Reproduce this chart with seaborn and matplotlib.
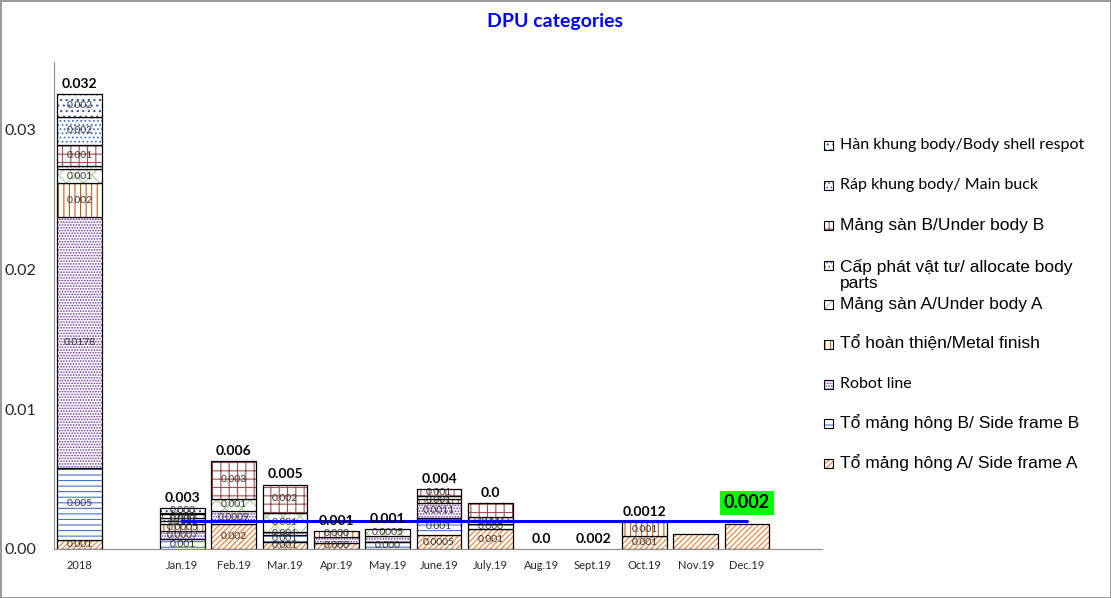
import numpy as np
import matplotlib.pyplot as plt
import seaborn as sns
from matplotlib.patches import Rectangle

# categories (second slot is an empty gap on the axis)
categories = ['2018', '', 'Jan.19', 'Feb.19', 'Mar.19', 'Apr.19', 'May.19',
              'June.19', 'July.19', 'Aug.19', 'Sept.19', 'Oct.19', 'Nov.19', 'Dec.19']

# DPU per group, stacked from the bottom up
side_a = [0.00066, 0, 0, 0.0018, 0.0005, 0.00045, 0, 0.001, 0.0014, 0, 0, 0.0009, 0.0011, 0.0018]
side_b = [0.00512, 0, 0.0007, 0, 0.0005, 0, 0.0005, 0.0012, 0.0004, 0, 0, 0, 0, 0]
robot = [0.01793, 0, 0.0006, 0.0009, 0.0002, 0.0004, 0.0004, 0.0011, 0.0003, 0, 0, 0, 0, 0]
metal = [0.00243, 0, 0.0005, 0, 0, 0.00045, 0, 0.0003, 0.0002, 0, 0, 0.001, 0, 0]
under_a = [0.001, 0, 0.0002, 0.0009, 0.0014, 0, 0.0005, 0, 0, 0, 0, 0, 0, 0]
allocate = [0.00024, 0, 0.0002, 0, 0, 0, 0, 0.0002, 0, 0, 0, 0, 0, 0]
under_b = [0.00148, 0, 0.0003, 0.0027, 0.002, 0, 0, 0.0005, 0.001, 0, 0, 0, 0, 0]
main_buck = [0.00204, 0, 0.0001, 0, 0, 0, 0, 0, 0, 0, 0, 0, 0, 0]
body_shell = [0.00162, 0, 0.0003, 0, 0, 0, 0, 0, 0, 0, 0, 0, 0, 0]

# data labels as printed inside the segments
side_a_lbl = ['0.001', '', '', '0.002', '0.001', '0.000', '', '0.0005', '0.001', '', '', '0.001', '', '']
side_b_lbl = ['0.005', '', '0.001', '', '0.001', '', '0.000', '0.001', '0.000', '', '', '', '', '']
robot_lbl = ['0.0178', '', '0.0007', '0.0009', '0.001', '', '', '0.0011', '0.000', '', '', '', '', '']
metal_lbl = ['0.002', '', '0.0005', '', '', '0.000', '', '0.001', '', '', '', '0.001', '', '']
under_a_lbl = ['0.001', '', '0.000', '0.001', '0.001', '', '0.0005', '', '', '', '', '', '', '']
allocate_lbl = ['', '', '0.000', '', '', '', '', '', '', '', '', '', '', '']
under_b_lbl = ['0.001', '', '0.000', '0.003', '0.002', '', '', '0.001', '', '', '', '', '', '']
main_buck_lbl = ['0.002', '', '', '', '', '', '', '', '', '', '', '', '', '']
body_shell_lbl = ['0.002', '', '0.000', '', '', '', '', '', '', '', '', '', '', '']

total_lbl = ['0.032', '', '0.003', '0.006', '0.005', '0.001', '0.001', '0.004',
             '0.0', '0.0', '0.002', '0.0012', '', '0.002']

# average line, Jan.19 .. Dec.19
avg_dpu = [0.002, 0.002, 0.002, 0.002, 0.002, 0.002, 0.002, 0.002, 0.002, 0.002, 0.002, 0.002]

series_names = ['Tổ mảng hông A/ Side frame A', 'Tổ mảng hông B/ Side frame B', 'Robot line',
                'Tổ hoàn thiện/Metal finish', 'Mảng sàn A/Under body A',
                'Cấp phát vật tư/ allocate body\nparts', 'Mảng sàn B/Under body B',
                'Ráp khung body/ Main buck', 'Hàn khung body/Body shell respot']
series = [side_a, side_b, robot, metal, under_a, allocate, under_b, main_buck, body_shell]
series_lbls = [side_a_lbl, side_b_lbl, robot_lbl, metal_lbl, under_a_lbl, allocate_lbl,
               under_b_lbl, main_buck_lbl, body_shell_lbl]
hatches = ['//////', '---', '......', '|||', 'xx', '....', '++', '....', '...']
hatch_colors = ['#ED7D31', '#4472C4', '#7030A0', '#C55A11', '#A9D18E', '#4472C4',
                '#A05050', '#4472C4', '#2F5597']

sns.set_theme(style='white')
plt.rcParams['hatch.linewidth'] = 0.8
plt.rcParams['font.family'] = ['Lato', 'DejaVu Sans']

fig = plt.figure(figsize=(11.11, 5.98), dpi=100)
fig.patch.set_edgecolor('#9a9a9a')
fig.patch.set_linewidth(2)
ax = fig.add_axes([54 / 1111, 49 / 598, (822 - 54) / 1111, (549 - 62) / 598])

x = np.arange(len(categories))
bottom = np.zeros(len(categories))
width = 0.87
for vals, lbls, hatch, hcol in zip(series, series_lbls, hatches, hatch_colors):
    vals = np.array(vals)
    m = vals > 0
    ax.bar(x[m], vals[m], width, bottom=bottom[m], color='white', edgecolor=hcol,
           hatch=hatch, linewidth=0)
    ax.bar(x[m], vals[m], width, bottom=bottom[m], fill=False, edgecolor='black', linewidth=0.9)
    for xi, v, b, t in zip(x, vals, bottom, lbls):
        if t:
            ax.text(xi, b + v / 2, t, ha='center', va='center', fontsize=7.5, color='#333333')
    bottom += vals

# average line
sns.lineplot(x=x[2:], y=avg_dpu, color='#0000FF', linewidth=2.2, ax=ax, zorder=5)

# totals above bars
for xi, tot, t in zip(x, bottom, total_lbl):
    if not t:
        continue
    if categories[xi] == 'Dec.19':
        ax.annotate(t, (xi, tot), xytext=(0, 9), textcoords='offset points', ha='center',
                    va='bottom', fontsize=13, fontweight='bold', color='black', zorder=6,
                    bbox=dict(boxstyle='square,pad=0.2', facecolor='#00FF00', edgecolor='none'))
    else:
        ax.annotate(t, (xi, tot), xytext=(0, 3), textcoords='offset points', ha='center',
                    va='bottom', fontsize=10, fontweight='bold', color='black', zorder=6)

ax.set_xlim(-0.5, 14.46)
ax.set_ylim(0, 0.0348)
ax.set_xticks(x)
ax.set_xticklabels(categories, fontsize=8)
ax.set_yticks([0, 0.01, 0.02, 0.03])
ax.set_yticklabels(['0.00', '0.01', '0.02', '0.03'], fontsize=11.5)
ax.tick_params(axis='y', length=0, pad=13)
ax.tick_params(axis='x', length=0, pad=8)
for s in ['top', 'right']:
    ax.spines[s].set_visible(False)
for s in ['left', 'bottom']:
    ax.spines[s].set_color('#8c8c8c')
    ax.spines[s].set_linewidth(0.8)

fig.text(555 / 1111, 1 - 22 / 598, 'DPU categories', ha='center', va='center',
         fontsize=14, fontweight='bold', color='#0000FF')

# legend drawn by hand, top to bottom
leg_y = [463, 423, 384, 344, 304, 265, 225, 185, 145]
calibri_like = {'Robot line', 'Ráp khung body/ Main buck', 'Hàn khung body/Body shell respot'}
for name, hatch, hcol, y in zip(series_names, hatches, hatch_colors, leg_y):
    r = Rectangle((824 / 1111, 1 - (y + 4.5) / 598), 9 / 1111, 9 / 598, transform=fig.transFigure,
                  facecolor='white', edgecolor=hcol, hatch=hatch, linewidth=0)
    fig.add_artist(r)
    fig.add_artist(Rectangle((824 / 1111, 1 - (y + 4.5) / 598), 9 / 1111, 9 / 598,
                             transform=fig.transFigure, fill=False, edgecolor='black', linewidth=0.8))
    ty = y + 10 if '\n' in name else y
    if name in calibri_like:
        fig.text(840 / 1111, 1 - ty / 598, name, va='center', ha='left', fontsize=11.5,
                 family=['Lato', 'DejaVu Sans'], color='black')
    else:
        fig.text(840 / 1111, 1 - ty / 598, name, va='center', ha='left', fontsize=12.5,
                 family=['Liberation Sans', 'DejaVu Sans'], color='black', linespacing=1.05)

fig.savefig('out.png', dpi=100, edgecolor=fig.get_edgecolor())
